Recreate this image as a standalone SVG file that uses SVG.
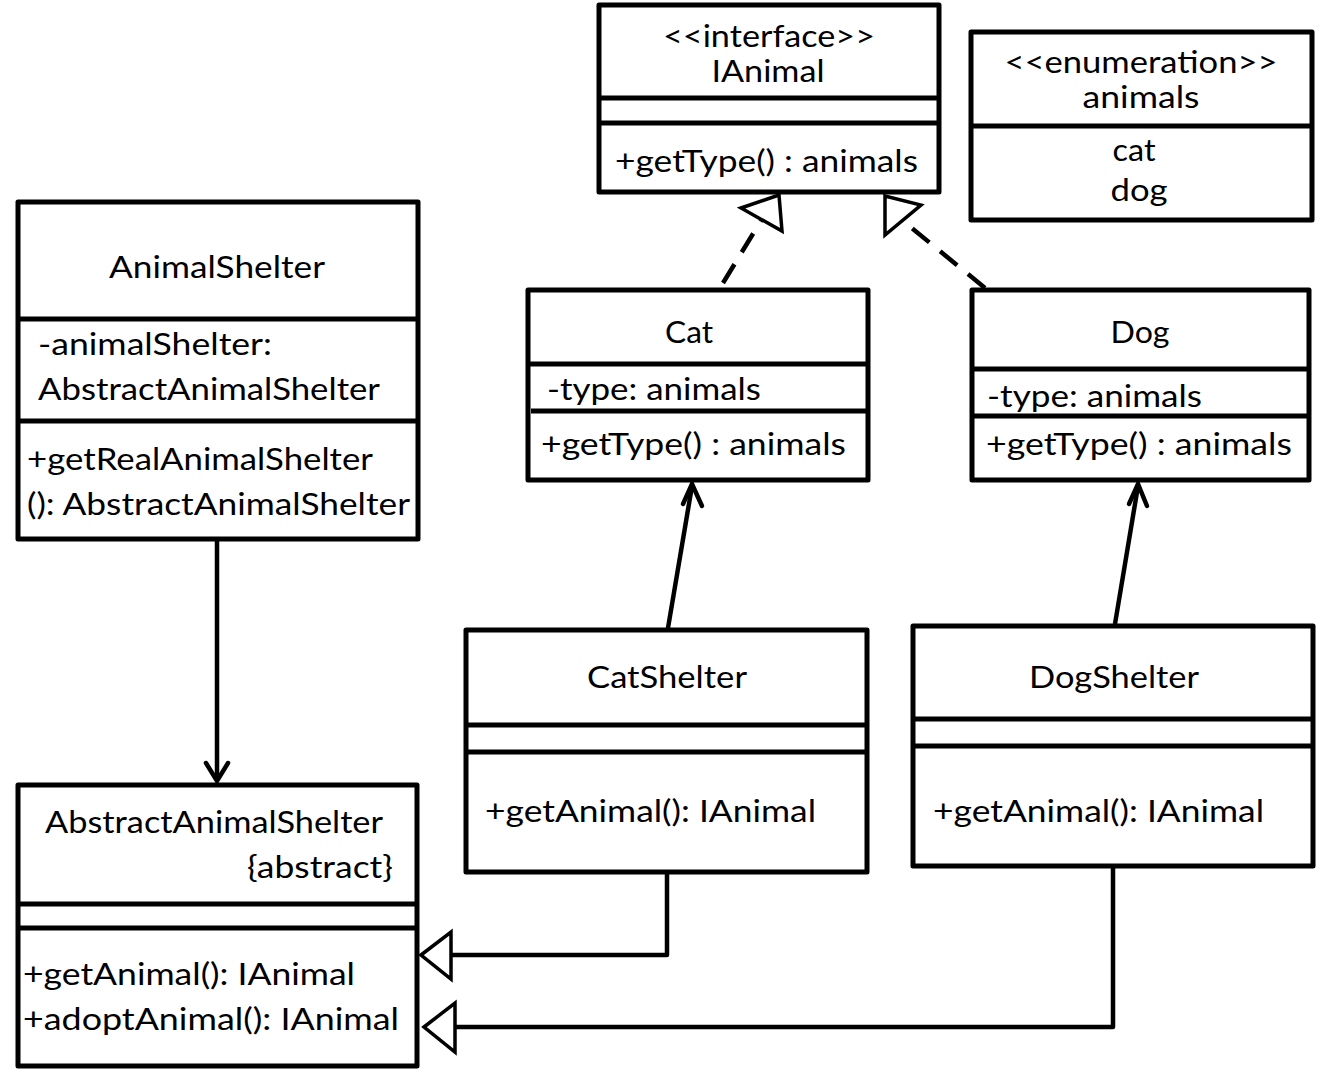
<svg xmlns="http://www.w3.org/2000/svg" width="1333" height="1072" viewBox="0 0 1333 1072">
<style>
.box{fill:#fff;stroke:#000;stroke-width:5;stroke-linejoin:round}
.div{stroke:#000;stroke-width:5}
text{font-family:Lato,"Liberation Sans",sans-serif;font-size:30px;fill:#000}
.c{text-anchor:middle}
.ln{fill:none;stroke:#000;stroke-width:4.5;stroke-linejoin:round}
.dash{fill:none;stroke:#000;stroke-width:4.5;stroke-dasharray:22 14}
.tri{fill:#fff;stroke:#000;stroke-width:3.5;stroke-linejoin:miter}
.open{fill:none;stroke:#000;stroke-width:4.5;stroke-linejoin:miter;stroke-linecap:round}
</style>
<rect width="1333" height="1072" fill="#fff"/>
<g id="connectors">
<path class="dash" d="M723,283 L762,219"/>
<polygon class="tri" points="779,195 741,208 782,231"/>
<path class="dash" d="M985,288 L902,220"/>
<polygon class="tri" points="885,196 885,235 921,205"/>
<path class="ln" d="M668,628 L692,486"/>
<path class="open" d="M683,504 L692,484 L702,506"/>
<path class="ln" d="M1115,624 L1138,486"/>
<path class="open" d="M1129,504 L1138,484 L1147,506"/>
<path class="ln" d="M217,540 L217,780"/>
<path class="open" d="M206,763 L217,781 L228,763"/>
<path class="ln" d="M667,872 L667,955 L451,955"/>
<polygon class="tri" points="421,955 451,932 451,979"/>
<path class="ln" d="M1113,866 L1113,1027 L455,1027"/>
<polygon class="tri" points="424,1027 455,1003 455,1052"/>
</g>
<g id="IAnimal">
<rect class="box" x="599" y="5" width="340" height="187"/>
<line class="div" x1="599" y1="98" x2="939" y2="98"/>
<line class="div" x1="599" y1="123" x2="939" y2="123"/>
<text class="c" x="769" y="47" textLength="212" lengthAdjust="spacingAndGlyphs">&lt;&lt;interface&gt;&gt;</text>
<text class="c" x="768" y="82" textLength="113" lengthAdjust="spacingAndGlyphs">IAnimal</text>
<text x="615" y="172" textLength="303" lengthAdjust="spacingAndGlyphs">+getType() : animals</text>
</g>
<g id="animals">
<rect class="box" x="971" y="32" width="341" height="188"/>
<line class="div" x1="971" y1="126" x2="1312" y2="126"/>
<text class="c" x="1141" y="73" textLength="273" lengthAdjust="spacingAndGlyphs">&lt;&lt;enumeration&gt;&gt;</text>
<text class="c" x="1141" y="108" textLength="117" lengthAdjust="spacingAndGlyphs">animals</text>
<text class="c" x="1134" y="161" textLength="43" lengthAdjust="spacingAndGlyphs">cat</text>
<text class="c" x="1139" y="201" textLength="57" lengthAdjust="spacingAndGlyphs">dog</text>
</g>
<g id="AnimalShelter">
<rect class="box" x="18" y="202" width="400" height="337"/>
<line class="div" x1="18" y1="319" x2="418" y2="319"/>
<line class="div" x1="18" y1="421" x2="418" y2="421"/>
<text class="c" x="217" y="278" textLength="216" lengthAdjust="spacingAndGlyphs">AnimalShelter</text>
<text x="38" y="355" textLength="234" lengthAdjust="spacingAndGlyphs">-animalShelter:</text>
<text x="38" y="400" textLength="342" lengthAdjust="spacingAndGlyphs">AbstractAnimalShelter</text>
<text x="27" y="470" textLength="346" lengthAdjust="spacingAndGlyphs">+getRealAnimalShelter</text>
<text x="27" y="515" textLength="383" lengthAdjust="spacingAndGlyphs">(): AbstractAnimalShelter</text>
</g>
<g id="Cat">
<rect class="box" x="528" y="290" width="340" height="190"/>
<line class="div" x1="528" y1="364" x2="868" y2="364"/>
<line class="div" x1="531" y1="411" x2="868" y2="411"/>
<text class="c" x="689" y="343" textLength="48" lengthAdjust="spacingAndGlyphs">Cat</text>
<text x="547" y="400" textLength="214" lengthAdjust="spacingAndGlyphs">-type: animals</text>
<text x="541" y="455" textLength="305" lengthAdjust="spacingAndGlyphs">+getType() : animals</text>
</g>
<g id="Dog">
<rect class="box" x="972" y="290" width="337" height="190"/>
<line class="div" x1="972" y1="369" x2="1309" y2="369"/>
<line class="div" x1="972" y1="416" x2="1309" y2="416"/>
<text class="c" x="1140" y="343" textLength="59" lengthAdjust="spacingAndGlyphs">Dog</text>
<text x="987" y="407" textLength="215" lengthAdjust="spacingAndGlyphs">-type: animals</text>
<text x="986" y="455" textLength="306" lengthAdjust="spacingAndGlyphs">+getType() : animals</text>
</g>
<g id="CatShelter">
<rect class="box" x="466" y="630" width="401" height="242"/>
<line class="div" x1="466" y1="725" x2="867" y2="725"/>
<line class="div" x1="466" y1="752" x2="867" y2="752"/>
<text class="c" x="667" y="688" textLength="160" lengthAdjust="spacingAndGlyphs">CatShelter</text>
<text x="485" y="822" textLength="331" lengthAdjust="spacingAndGlyphs">+getAnimal(): IAnimal</text>
</g>
<g id="DogShelter">
<rect class="box" x="913" y="626" width="400" height="240"/>
<line class="div" x1="913" y1="719" x2="1313" y2="719"/>
<line class="div" x1="913" y1="746" x2="1313" y2="746"/>
<text class="c" x="1114" y="688" textLength="170" lengthAdjust="spacingAndGlyphs">DogShelter</text>
<text x="933" y="822" textLength="331" lengthAdjust="spacingAndGlyphs">+getAnimal(): IAnimal</text>
</g>
<g id="AbstractAnimalShelter">
<rect class="box" x="18" y="785" width="399" height="281"/>
<line class="div" x1="18" y1="904" x2="417" y2="904"/>
<line class="div" x1="18" y1="928" x2="417" y2="928"/>
<text x="45" y="833" textLength="338" lengthAdjust="spacingAndGlyphs">AbstractAnimalShelter</text>
<text x="247" y="878" textLength="146" lengthAdjust="spacingAndGlyphs">{abstract}</text>
<text x="23" y="985" textLength="332" lengthAdjust="spacingAndGlyphs">+getAnimal(): IAnimal</text>
<text x="23" y="1030" textLength="376" lengthAdjust="spacingAndGlyphs">+adoptAnimal(): IAnimal</text>
</g>
</svg>
